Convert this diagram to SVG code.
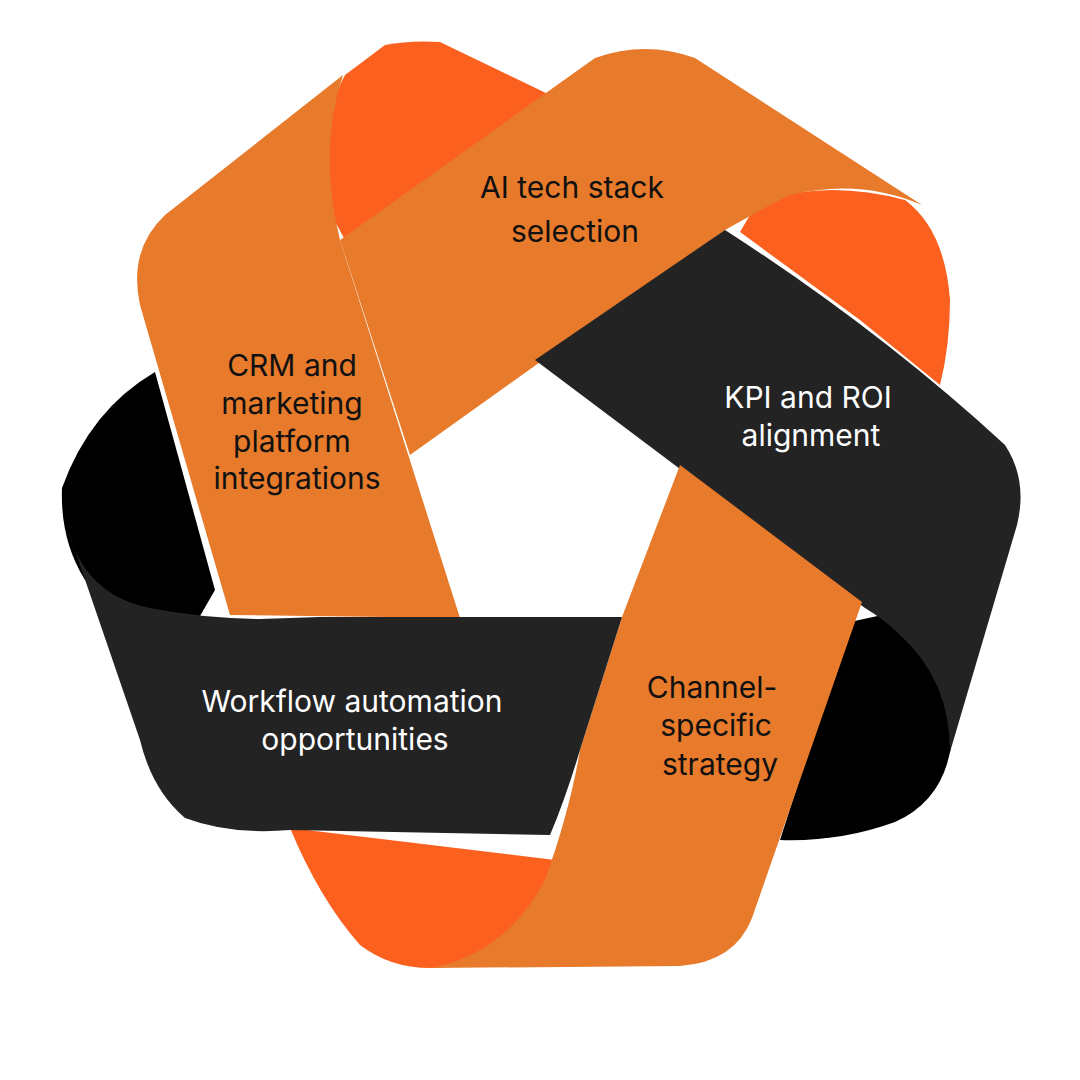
<svg xmlns="http://www.w3.org/2000/svg" width="1080" height="1080" viewBox="0 0 1080 1080">
<style>
.o{fill:#E77A2B}.r{fill:#FB601E}.k{fill:#000}.d{fill:#232323}
text{font-family:Inter,"Open Sans","Liberation Sans",sans-serif;font-size:30px;text-anchor:middle}
.dt{fill:#111}.wt{fill:#fff}
</style>
<rect width="1080" height="1080" fill="#fff"/>
<g id="back">
<path class="r" d="M330,212 Q320,120 345,75 L385,45 Q410,40 440,42 L550,95 L345,240 Z"/>
<path class="r" d="M750,215 L765,200 Q830,180 905,200 Q945,230 950,300 Q950,345 940,385 L860,320 L740,232 Z"/>
<path class="r" d="M290,828 Q320,900 360,945 Q390,968 430,968 L545,962 L555,860 Z"/>
<path class="k" d="M62,488 Q90,410 155,372 L215,590 L200,616 Q120,612 85,580 Q60,540 62,488 Z"/>
<path class="k" d="M850,622 L905,610 Q950,660 952,740 Q945,800 895,822 Q840,842 780,840 Z"/>
</g>
<g id="ai-tech-stack">
<path class="o" d="M340,240 L595,58 Q645,40 695,58 L922,205 Q860,178 790,195 Q760,210 725,230 L410,455 Z"/>
<text class="dt" x="572" y="198">AI tech stack</text>
<text class="dt" x="575" y="242">selection</text>
</g>
<g id="kpi">
<path class="d" d="M535,360 L725,230 Q880,330 1005,445 Q1028,480 1017,525 L950,752 Q950,680 900,635 Q885,620 865,608 Z"/>
<text class="wt" x="808" y="408">KPI and ROI</text>
<text class="wt" x="811" y="446">alignment</text>
</g>
<g id="channel">
<path class="o" d="M680,465 L862,602 L752,918 Q735,962 680,966 L430,968 Q505,955 545,880 Q570,810 580,750 L622,617 Z"/>
<text class="dt" x="712" y="698">Channel-</text>
<text class="dt" x="716" y="736">specific</text>
<text class="dt" x="720" y="775">strategy</text>
</g>
<g id="crm">
<path class="o" d="M343,75 L165,215 Q128,250 140,305 L230,615 L460,618 L340,240 Q318,150 343,75 Z"/>
<text class="dt" x="292" y="376">CRM and</text>
<text class="dt" x="292" y="414">marketing</text>
<text class="dt" x="292" y="452">platform</text>
<text class="dt" x="297" y="489">integrations</text>
</g>
<g id="workflow">
<path class="d" d="M68,530 Q85,595 150,608 Q200,618 260,619 L320,617 L622,617 L580,750 Q565,800 550,835 L290,830 Q230,835 185,818 Q152,790 140,740 Z"/>
<text class="wt" x="352" y="712">Workflow automation</text>
<text class="wt" x="355" y="750">opportunities</text>
</g>
<g id="connectors"/>
</svg>
